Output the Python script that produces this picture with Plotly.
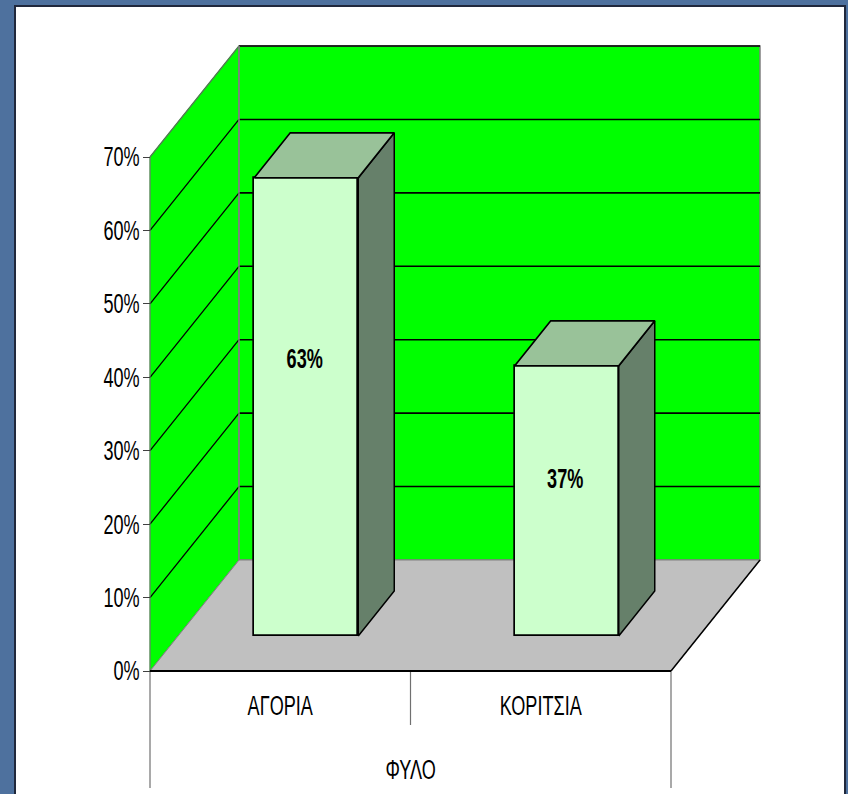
import plotly.graph_objects as go

categories = ["ΑΓΟΡΙΑ", "ΚΟΡΙΤΣΙΑ"]
values = [62.4, 36.8]
value_labels = ["63%", "37%"]
y_ticks = [0, 10, 20, 30, 40, 50, 60, 70]
y_tick_labels = ["0%", "10%", "20%", "30%", "40%", "50%", "60%", "70%"]
axis_title = "ΦΥΛΟ"

W, H = 848, 794
PAD = 5
X0, Y0 = 150, 671       # pixel of the front origin
L, R, T, B = X0 - PAD, 80, 40, 4
PX_X = 260.5            # px per category
PX_Y = 514 / 70.0       # px per percent
PW, PH = W - L - R, H - T - B
xmin, xmax = -PAD / PX_X, (PW - PAD) / PX_X
ymin, ymax = -(H - B - Y0) / PX_Y, (Y0 - T) / PX_Y
DX, DY = 89 / PX_X, 111 / PX_Y          # wall depth
BDX, BDY = 36 / PX_X, 45 / PX_Y         # bar depth
OFFX, OFFY = 26 / PX_X, 35 / PX_Y       # bar offset on floor
BAR_W = 104 / PX_X
N = len(categories)
TOP = y_ticks[-1]
FONT = "Liberation Sans, Arial, sans-serif"
FS = 27


def poly(pts):
    return "M " + " L ".join(f"{x},{y}" for x, y in pts) + " Z"


shapes = [
    dict(type="rect", xref="paper", yref="paper",
         x0=(15 - L) / PW, x1=(845 - L) / PW,
         y0=(H - B - 800) / PH, y1=(H - B - 6) / PH,
         fillcolor="white", line=dict(color="#20283c", width=2), layer="below"),
    dict(type="path", path=poly([(0, 0), (DX, DY), (DX, TOP + DY), (0, TOP)]),
         fillcolor="#00FF00", line=dict(color="#5f8f5f", width=1), layer="below"),
    dict(type="rect", x0=DX, x1=N + DX, y0=DY, y1=TOP + DY,
         fillcolor="#00FF00", line=dict(color="#808080", width=1.5), layer="below"),
    dict(type="path", path=poly([(0, 0), (N, 0), (N + DX, DY), (DX, DY)]),
         fillcolor="#C0C0C0", line=dict(color="#808080", width=1), layer="below"),
]
for t in y_ticks[1:]:
    shapes.append(dict(type="line", x0=DX, x1=N + DX, y0=t + DY, y1=t + DY,
                       line=dict(color="black", width=1.6), layer="below"))
    shapes.append(dict(type="line", x0=0, x1=DX, y0=t, y1=t + DY,
                       line=dict(color="black" if t < TOP else "#4f7f4f", width=1.3), layer="below"))
shapes.append(dict(type="line", x0=N, x1=N + DX, y0=0, y1=DY,
                   line=dict(color="black", width=1.5), layer="below"))
shapes.append(dict(type="line", x0=DX, x1=DX, y0=DY, y1=TOP + DY,
                   line=dict(color="#808080", width=1.5), layer="below"))
# front edges and category separators
shapes.append(dict(type="line", x0=0, x1=0, y0=0, y1=TOP,
                   line=dict(color="#5f8f5f", width=1), layer="below"))
for xv, depth in ((0, 117), (1, 54), (2, 117)):
    shapes.append(dict(type="line", x0=xv, x1=xv, y0=0, y1=-depth / PX_Y,
                       line=dict(color="#707070", width=1.2), layer="below"))
shapes.append(dict(type="line", x0=0, x1=N, y0=0, y1=0,
                   line=dict(color="black", width=2), layer="below"))

fig = go.Figure()

centers = [i + 0.5 + OFFX for i in range(N)]

fig.add_trace(go.Bar(
    x=centers, y=values, base=[OFFY] * N, width=[BAR_W] * N,
    marker=dict(color="#CCFFCC", line=dict(color="black", width=1.7)),
    showlegend=False, hoverinfo="skip"))

for cx, v in zip(centers, values):
    x0, x1 = cx - BAR_W / 2, cx + BAR_W / 2
    y0, y1 = OFFY, OFFY + v
    fig.add_trace(go.Scatter(
        x=[x1, x1 + BDX, x1 + BDX, x1, x1], y=[y0, y0 + BDY, y1 + BDY, y1, y0],
        mode="lines", fill="toself", fillcolor="#66806A",
        line=dict(color="black", width=1.5), showlegend=False, hoverinfo="skip"))
    fig.add_trace(go.Scatter(
        x=[x0, x1, x1 + BDX, x0 + BDX, x0], y=[y1, y1, y1 + BDY, y1 + BDY, y1],
        mode="lines", fill="toself", fillcolor="#99C299",
        line=dict(color="black", width=1.7), showlegend=False, hoverinfo="skip"))

# data labels
fig.add_trace(go.Scatter(
    x=[c - 0.006 for c in centers], y=[2.45 + 0.637 * v for v in values],
    mode="text", text=[f"<b>{s}</b>" for s in value_labels],
    textfont=dict(family=FONT, size=FS, color="black"),
    showlegend=False, hoverinfo="skip"))

fig.add_annotation(x=N / 2, y=-99 / PX_Y, xref="x", yref="y", text=axis_title,
                   showarrow=False, font=dict(family=FONT, size=FS, color="black"))

fig.update_layout(
    width=W, height=H, margin=dict(l=L, r=R, t=T, b=B, pad=0),
    paper_bgcolor="#4E719E", plot_bgcolor="rgba(0,0,0,0)",
    shapes=shapes, bargap=0, showlegend=False,
    xaxis=dict(range=[xmin, xmax], tickmode="array", anchor="free",
               position=(H - B - Y0) / PH,
               tickvals=[i + 0.5 for i in range(N)], ticktext=categories,
               ticks="outside", ticklen=11, tickcolor="rgba(0,0,0,0)",
               tickfont=dict(family=FONT, size=FS, color="black"),
               showgrid=False, zeroline=False, showline=False),
    yaxis=dict(range=[ymin, ymax], tickmode="array", tickvals=y_ticks, anchor="free",
               position=PAD / PW,
               ticktext=y_tick_labels, ticks="outside", ticklen=7, tickcolor="#404040",
               ticklabelstandoff=-2,
               tickfont=dict(family=FONT, size=FS, color="black"),
               showgrid=False, zeroline=False, showline=False),
)

narrow = """
document.body.style.margin='0';
document.querySelectorAll('.main-svg text').forEach(function(t){
  var n=t.getComputedTextLength();
  if(n>0){t.setAttribute('lengthAdjust','spacingAndGlyphs');t.setAttribute('textLength',n*0.67);}
});
"""
fig.write_html("out.html", post_script=narrow, config={"displayModeBar": False})
